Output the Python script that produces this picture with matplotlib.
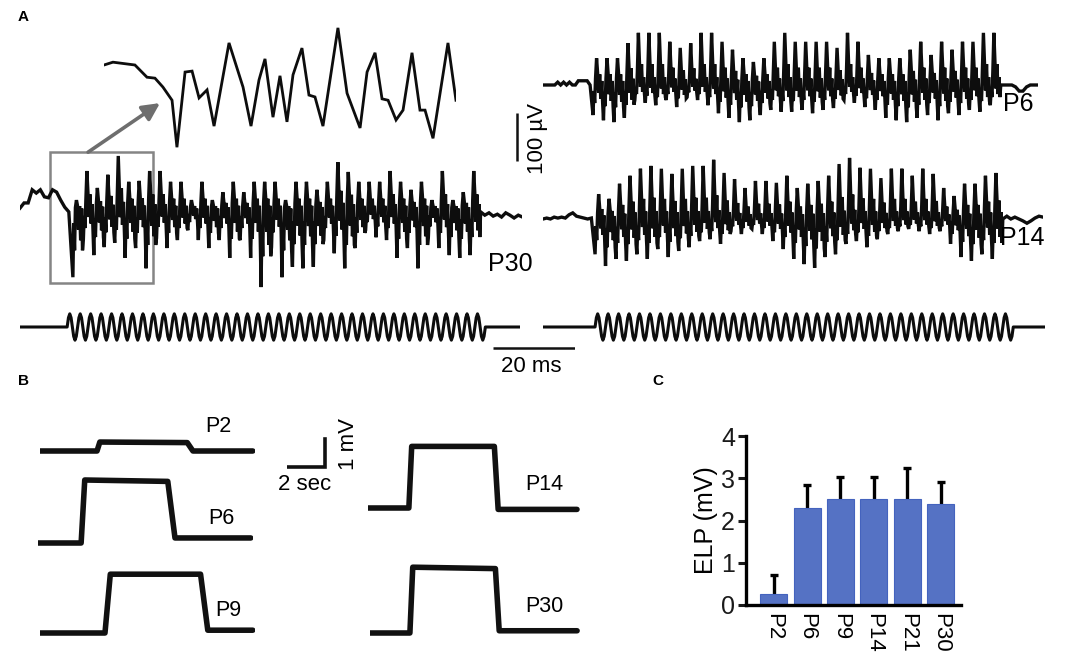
import numpy as np
import matplotlib
matplotlib.use("Agg")
import matplotlib.pyplot as plt
from matplotlib.patches import Rectangle

plt.rcParams['font.family'] = ['Liberation Sans', 'DejaVu Sans']

# ---------------- data ----------------
# Panel A: field responses, per-cycle peak / trough (uV, relative to baseline)
P30_PRE_UV = [4, 15, 15, 43, 36, 43, 28, 26, 43, 38, 21, 6, -4]
P30_PEAKS_UV = [21, 83, 47, 75, 115, 60, 62, 83, 83, 60, 60, 21, 60, 21, 38, 60, 38, 60, 60, 60,
                21, 60, 60, 43, 60, 102, 81, 60, 60, 60, 83, 60, 43, 60, 21, 83, 21, 38, 83]
P30_TROUGHS_UV = [143, 64, 96, 79, 70, 102, 81, 124, 60, 81, 64, 43, 64, 81, 64, 102, 64, 102, 164, 79,
                  143, 121, 124, 121, 64, 92, 124, 81, 43, 58, 64, 102, 81, 124, 58, 81, 96, 102, 96]
P30_POST_UV = [-4, -11, -6, -13, -9, -15, -6, -11, -17, -11, -15]

P6_PRE_UV = [0, 0, 0, 0, 0, 6, 0, 6, 0, 6, 0, 0, 9, 9, 9, 9, 0]
P6_PEAKS_UV = [57, 57, 57, 89, 111, 111, 111, 92, 79, 89, 111, 111, 92, 75, 57, 49, 57, 92, 111, 92,
               92, 92, 92, 79, 111, 92, 64, 57, 57, 57, 75, 92, 64, 92, 75, 92, 92, 111, 111]
P6_TROUGHS_UV = [64, 75, 79, 70, 32, 38, 43, 32, 47, 26, 32, 43, 60, 70, 79, 75, 64, 53, 57, 57,
                 53, 60, 53, 49, 32, 38, 47, 53, 70, 75, 79, 70, 64, 75, 60, 64, 53, 57, 43]
P6_POST_UV = [0, 0, 0, 0, -4, -13, -13, -4, 0, 0, 0]

P14_PRE_UV = [0, 2, 0, 4, 2, 4, 2, 9, 13, 6, 4, 2, 0, 2]
P14_PEAKS_UV = [53, 43, 75, 92, 107, 113, 107, 96, 107, 113, 113, 126, 98, 85, 66, 81, 81, 77, 92, 66,
                75, 81, 92, 117, 130, 109, 107, 87, 107, 107, 92, 107, 96, 66, 49, 75, 75, 92, 98]
P14_TROUGHS_UV = [75, 100, 85, 89, 75, 85, 64, 81, 68, 60, 47, 43, 53, 26, 32, 21, 32, 47, 64, 85,
                  96, 104, 81, 75, 53, 47, 60, 43, 32, 26, 21, 26, 32, 26, 53, 81, 89, 75, 85]
P14_POST_UV = [0, 6, 0, 4, 0, -4, -9, -4, 2, 6, 4]

# one response cycle: time fraction, weight on peak, weight on trough
CYCLE_FRAC = [0.00, 0.08, 0.16, 0.24, 0.34, 0.44, 0.54, 0.64, 0.74, 0.84, 0.92]
CYCLE_PK = [0.0, 0.0, 0.0, 0.25, 1.0, 0.45, 0.05, 0.40, 0.0, 0.15, 0.0]
CYCLE_TR = [-1.0, -0.2, -0.6, 0.0, 0.0, 0.0, -0.3, 0.0, -0.45, 0.0, -0.6]

# stimulus: 40 cycles, one cycle sampled
STIM_CYCLES = 40
STIM_SHAPE = [0, 0.71, 1, 0.71, 0, -0.71, -1, -0.71]
STIM_AMP = 28
PERIOD_MS = 2.55

# inset (zoom of first 25 ms of P30)
INSET_T_MS = [0, 0.64, 2.21, 3.07, 3.64, 4.21, 4.86, 5.21, 5.79, 6.29, 6.79, 7.36, 7.86, 8.93,
              9.93, 10.5, 11.07, 11.5, 12.07, 12.57, 13.07, 13.5, 14.14, 14.64, 15.07, 15.64,
              16.71, 17.36, 18.29, 18.79, 19.36, 19.86, 20.29, 20.86, 21.36, 22.0, 22.57, 22.93,
              23.5, 24.57, 25.14]
INSET_UV = [0, 6, 0, -26, -28, -47, -75, -175, -15, -13, -70, -53, -130, 47, -47, -130, -32, 13,
            -111, -23, -121, -21, 36, -64, -68, -130, 79, -60, -134, -15, 26, -72, -75, -117, -96,
            26, -96, -96, -156, 47, -75]

# Panel B: ELP step traces (time s, mV)
B_LABELS = ['P2', 'P6', 'P9', 'P14', 'P30']
B_T = [[0, 3.0, 3.15, 7.75, 8.05, 11.2],
       [0, 2.27, 2.46, 6.83, 7.21, 11.2],
       [0, 3.42, 3.70, 8.45, 8.83, 11.2],
       [0, 2.15, 2.30, 6.65, 6.85, 11.0],
       [0, 2.10, 2.25, 6.60, 6.80, 10.9]]
B_MV = [[0, 0, 0.32, 0.30, 0, 0],
        [0, 0, 2.25, 2.20, 0.18, 0.18],
        [0, 0, 2.10, 2.10, 0.10, 0.10],
        [0, 0, 2.20, 2.20, -0.05, -0.05],
        [0, 0, 2.35, 2.30, 0.08, 0.08]]

# Panel C: ELP amplitude
ages = ['P2', 'P6', 'P9', 'P14', 'P21', 'P30']
elp_mean = [0.25, 2.3, 2.5, 2.5, 2.5, 2.38]
elp_err = [0.47, 0.55, 0.53, 0.53, 0.75, 0.52]

# ---------------- helpers ----------------
W, H = 1084, 653
fig = plt.figure(figsize=(W / 100, H / 100), dpi=100)
PX_MS = 4.1      # px per ms (20 ms bar = 82 px)
PX_UV = 0.47     # px per uV (100 uV bar = 47 px)


def px_axes(left, top, right, bottom):
    ax = fig.add_axes([left / W, 1 - bottom / H, (right - left) / W, (bottom - top) / H])
    ax.patch.set_alpha(0)
    return ax


def px_text(x, y, s, **kw):
    return fig.text(x / W, 1 - y / H, s, **kw)


def trace_axes(x0, y_base, t_span, px_ms=PX_MS, px_uv=PX_UV, half=110):
    ax = px_axes(x0, y_base - half, x0 + t_span * px_ms, y_base + half)
    ax.set_xlim(0, t_span)
    ax.set_ylim(-half / px_uv, half / px_uv)
    ax.axis('off')
    return ax


def build_response(pre, peaks, troughs, post, pre_ms, post_ms):
    t = list(np.linspace(0, pre_ms, len(pre), endpoint=False))
    v = list(pre)
    for i, (pk, tr) in enumerate(zip(peaks, troughs)):
        for f, a, b in zip(CYCLE_FRAC, CYCLE_PK, CYCLE_TR):
            t.append(pre_ms + (i + f) * PERIOD_MS)
            v.append(a * pk + b * tr)
    t_end = pre_ms + len(peaks) * PERIOD_MS
    t += list(np.linspace(t_end, t_end + post_ms, len(post)))
    v += list(post)
    return np.array(t), np.array(v)


def build_stim(pre_ms, post_ms):
    t, v = [0.0], [0.0]
    n = len(STIM_SHAPE)
    for i in range(STIM_CYCLES):
        for k, s in enumerate(STIM_SHAPE):
            t.append(pre_ms + (i + k / n) * PERIOD_MS)
            v.append(s * STIM_AMP)
    t_end = pre_ms + STIM_CYCLES * PERIOD_MS
    t += [t_end, t_end + post_ms]
    v += [0, 0]
    return t, v


TRACE_KW = dict(color='#0d0d0d', lw=2.4, solid_joinstyle='miter')

# ---------------- Panel A ----------------
t30, v30 = build_response(P30_PRE_UV, P30_PEAKS_UV, P30_TROUGHS_UV, P30_POST_UV, 12.9, 10.2)
ax30 = trace_axes(20, 210, t30[-1])
ax30.plot(t30, v30, **TRACE_KW)
px_text(488, 271, 'P30', fontsize=18, ha='left', va='baseline')

t6, v6 = build_response(P6_PRE_UV, P6_PEAKS_UV, P6_TROUGHS_UV, P6_POST_UV, 12.2, 9.0)
ax6 = trace_axes(543, 85, t6[-1])
ax6.plot(t6, v6, **TRACE_KW)
px_text(1003, 111, 'P6', fontsize=18, ha='left', va='baseline')

t14, v14 = build_response(P14_PRE_UV, P14_PEAKS_UV, P14_TROUGHS_UV, P14_POST_UV, 12.7, 9.8)
ax14 = trace_axes(543, 219, t14[-1])
ax14.plot(t14, v14, **TRACE_KW)
px_text(1000, 245, 'P14', fontsize=18, ha='left', va='baseline')

# inset
axin = trace_axes(104, 65, INSET_T_MS[-1], px_ms=14.0, half=90)
axin.plot(INSET_T_MS, INSET_UV, color='#0d0d0d', lw=2.0, solid_joinstyle='miter')

# box + arrow
ax30.add_patch(Rectangle((7.3, -155), 25.1, 278, fill=False, ec='#858585', lw=1.8, clip_on=False))
ax30.annotate('', xy=(4.0, -81), xycoords=axin.transData, xytext=(16.6, 123),
              textcoords=ax30.transData,
              arrowprops=dict(arrowstyle='-|>', color='#6e6e6e', lw=2.6, mutation_scale=26,
                              shrinkA=0, shrinkB=0))

# stimulus traces
st_t, st_v = build_stim(11.5, 8.5)
axs1 = trace_axes(20, 327, st_t[-1], half=30)
axs1.plot(st_t, st_v, color='#0d0d0d', lw=2.2)
st_t2, st_v2 = build_stim(12.7, 7.8)
axs2 = trace_axes(543, 327, st_t2[-1], half=30)
axs2.plot(st_t2, st_v2, color='#0d0d0d', lw=2.2)

# scale bars
axbar = trace_axes(493, 348, 20, half=10)
axbar.plot([0, 20], [0, 0], color='#111111', lw=1.8, solid_capstyle='butt')
px_text(531, 367, '20 ms', fontsize=16, ha='center', va='center')

axv = trace_axes(515, 137, 1, half=30)
axv.plot([0.5, 0.5], [-50, 50], color='#111111', lw=1.8, solid_capstyle='butt')
px_text(537, 138, '100 µV', fontsize=16, ha='center', va='center', rotation=90)

# ---------------- Panel B ----------------
PX_S = 19.0    # px per second (2 sec = 38 px)
PX_MV = 28.0   # px per mV
b_pos = [(40, 451), (38, 543), (40, 633), (368, 508), (370, 633)]
b_lab = [(205, 426), (208, 519), (215, 610), (525, 484), (525, 606)]
for lab, (x0, yb), (lx, ly), tt, vv in zip(B_LABELS, b_pos, b_lab, B_T, B_MV):
    ax = px_axes(x0, yb - 80, x0 + 11.3 * PX_S, yb + 15)
    ax.set_xlim(0, 11.3)
    ax.set_ylim(-15 / PX_MV, 80 / PX_MV)
    ax.axis('off')
    ax.plot(tt, vv, color='#111111', lw=4.0, solid_joinstyle='round', solid_capstyle='round')
    px_text(lx, ly, lab, fontsize=15.5, ha='left', va='center')

axsb = px_axes(287, 437, 287 + 2.2 * PX_S, 470)
axsb.set_xlim(0, 2.2)
axsb.set_ylim(-3 / PX_MV, 30 / PX_MV)
axsb.axis('off')
axsb.plot([0, 2, 2], [0, 0, 1], color='#111111', lw=2.6, solid_joinstyle='miter')
px_text(305, 485, '2 sec', fontsize=16, ha='center', va='center')
px_text(349, 444, '1 mV', fontsize=16, ha='center', va='center', rotation=90)

# ---------------- Panel C ----------------
axc = px_axes(746, 436, 961, 605)
x = np.arange(len(ages))
axc.bar(x, elp_mean, width=0.81, color='#5572C4', edgecolor='#4463BE', lw=0.8, zorder=2)
eb = axc.errorbar(x, elp_mean, yerr=[np.zeros(len(ages)), elp_err], fmt='none', ecolor='black',
                  elinewidth=2.4, capsize=3, capthick=2.4, zorder=1)
eb[1][0].set_visible(False)   # no lower cap
axc.set_xlim(-0.83, 5.61)
axc.set_ylim(0, 4)
axc.set_yticks([0, 1, 2, 3, 4])
axc.set_xticks(x)
axc.set_xticklabels(ages, rotation=270, fontsize=16)
axc.tick_params(axis='y', labelsize=18, length=6, width=2.2, pad=2, colors='#1a1a1a')
axc.tick_params(axis='x', length=0, pad=6)
for s in ['top', 'right']:
    axc.spines[s].set_visible(False)
for s in ['left', 'bottom']:
    axc.spines[s].set_linewidth(2.4)
axc.set_ylabel('ELP (mV)', fontsize=18, labelpad=2)

# panel letters
for lab, (lx, ly) in zip(['A', 'B', 'C'], [(18, 17), (18, 381), (652, 381)]):
    px_text(lx, ly, lab, fontsize=11, fontweight='bold', ha='left', va='center')

fig.savefig('out.png', dpi=100)
